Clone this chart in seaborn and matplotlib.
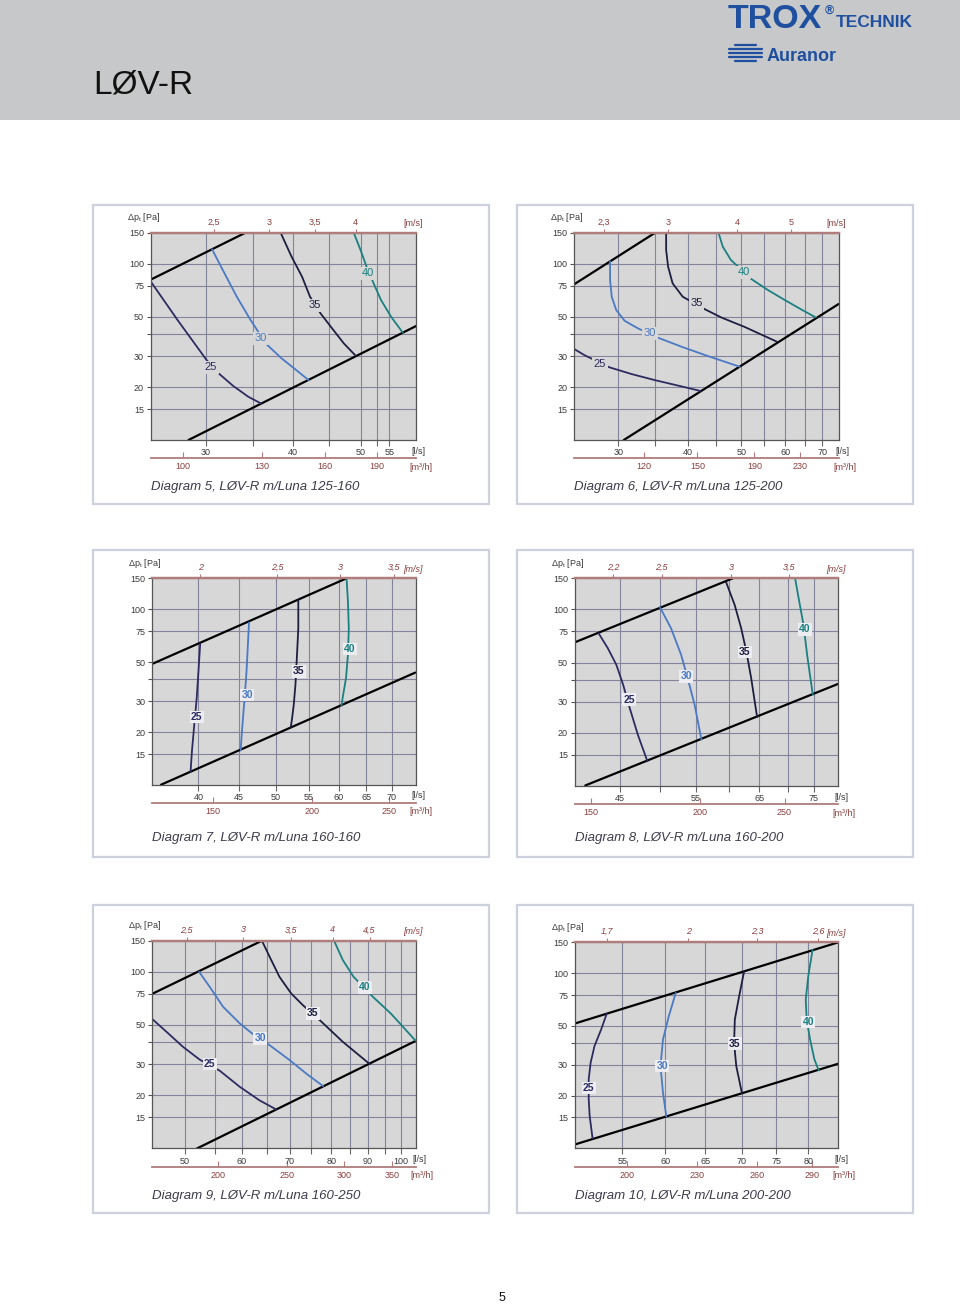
import matplotlib
matplotlib.use("Agg")
import matplotlib.pyplot as plt
import seaborn as sns
from matplotlib.patches import Rectangle
from matplotlib.lines import Line2D
from matplotlib.ticker import NullLocator, NullFormatter

# ------------------------------------------------------------------ data
Y_LIM = (10, 150)
Y_TICKS = [15, 20, 30, 40, 50, 75, 100, 150]
Y_TICK_LABELS = ["15", "20", "30", "", "50", "75", "100", "150"]
CURVE_NAMES = ["25", "30", "35", "40"]

# Diagram 5
D5_TITLE = "Diagram 5, LØV-R m/Luna 125-160"
D5_XLIM = (25, 60)
D5_LS_TICKS = [30, 40, 50, 55]
D5_LS_MINOR = [35, 45, 52.8]
D5_M3H_TICKS = [100, 130, 160, 190]
D5_MS_TICKS = [2.5, 3, 3.5, 4]
D5_MS_LABELS = ["2,5", "3", "3,5", "4"]
D5_MS_FACTOR = 12.3
D5_UPPER = [(24.9, 81.0), (34.1, 150.0)]
D5_LOWER = [(28.3, 10.0), (60.2, 44.6)]
D5_C25 = [(24.9, 81.0), (27.3, 48.0), (30.0, 28.7), (31.2, 24.1), (32.8, 20.3), (34.5, 17.6), (36.0, 16.1)]
D5_C30 = [(30.6, 121.1), (31.7, 92.4), (33.2, 65.2), (34.7, 48.5), (36.6, 35.1), (38.5, 29.1), (40.3, 25.2), (42.1, 21.9)]
D5_C35 = [(38.4, 150.0), (39.8, 110.0), (41.2, 84.7), (42.3, 65.2), (43.8, 52.4), (45.5, 43.1), (47.3, 35.4), (49.2, 30.1)]
D5_C40 = [(48.9, 150.0), (50.0, 120.0), (51.0, 96.5), (52.2, 77.6), (53.5, 62.4), (55.3, 50.2), (57.5, 40.7)]
D5_LABELS = [(30.5, 25.9), (35.9, 37.8), (43.0, 58.2), (51.2, 88.5)]

# Diagram 6
D6_TITLE = "Diagram 6, LØV-R m/Luna 125-200"
D6_XLIM = (25, 75)
D6_LS_TICKS = [30, 40, 50, 60, 70]
D6_LS_MINOR = [35, 45, 55, 65]
D6_M3H_TICKS = [120, 150, 190, 230]
D6_MS_TICKS = [2.3, 3, 4, 5]
D6_MS_LABELS = ["2,3", "3", "4", "5"]
D6_MS_FACTOR = 12.3
D6_UPPER = [(24.86, 75.9), (34.9, 150.0)]
D6_LOWER = [(30.7, 10.0), (74.85, 59.2)]
D6_C25 = [(24.9, 33.1), (26.1, 30.3), (28.9, 25.9), (31.7, 23.7), (34.9, 21.9), (38.4, 20.4), (42.2, 19.0)]
D6_C30 = [(29.0, 103.4), (29.0, 81.0), (29.2, 65.2), (29.75, 54.8), (30.8, 47.6), (32.55, 43.1), (35.4, 38.1), (39.0, 33.9), (43.5, 30.0), (49.65, 26.1)]
D6_C35 = [(36.6, 150.0), (36.6, 120.0), (36.9, 96.5), (37.6, 77.6), (39.2, 65.2), (42.9, 55.5), (46.0, 49.7), (50.6, 44.0), (57.95, 36.2)]
D6_C40 = [(45.5, 150.0), (46.3, 125.4), (47.9, 105.3), (52.1, 82.2), (55.85, 71.1), (59.9, 62.4), (64.1, 55.2), (68.1, 49.7)]
D6_LABELS = [(27.8, 27.2), (34.2, 40.3), (41.5, 59.8), (50.5, 89.6)]

# Diagram 7
D7_TITLE = "Diagram 7, LØV-R m/Luna 160-160"
D7_XLIM = (35, 75)
D7_LS_TICKS = [40, 45, 50, 55, 60, 65, 70]
D7_LS_MINOR = []
D7_M3H_TICKS = [150, 200, 250]
D7_MS_TICKS = [2, 2.5, 3, 3.5]
D7_MS_LABELS = ["2", "2,5", "3", "3,5"]
D7_MS_FACTOR = 20.1
D7_UPPER = [(35.0, 48.9), (61.4, 150.0)]
D7_LOWER = [(35.9, 10.04), (74.9, 43.6)]
D7_C25 = [(40.2, 63.5), (40.0, 44.3), (39.8, 31.2), (39.5, 21.5), (39.25, 15.5), (39.1, 11.95)]
D7_C30 = [(46.3, 84.0), (46.15, 62.7), (45.97, 44.3), (45.75, 32.6), (45.5, 24.0), (45.3, 18.5), (45.2, 15.7)]
D7_C35 = [(53.4, 113.0), (53.4, 78.0), (53.2, 55.1), (52.96, 37.2), (52.7, 28.6), (52.45, 24.0), (52.25, 21.3)]
D7_C40 = [(61.4, 150.0), (61.65, 110.5), (61.8, 78.0), (61.65, 55.1), (61.3, 40.5), (60.8, 32.6), (60.5, 28.3)]
D7_LABELS = [(39.8, 24.4), (46.06, 32.6), (53.5, 44.3), (62.0, 59.3)]

# Diagram 8
D8_TITLE = "Diagram 8, LØV-R m/Luna 160-200"
D8_XLIM = (40, 80)
D8_LS_TICKS = [45, 55, 65, 75]
D8_LS_MINOR = [50, 60, 70]
D8_M3H_TICKS = [150, 200, 250]
D8_MS_TICKS = [2.2, 2.5, 3, 3.5]
D8_MS_LABELS = ["2,2", "2,5", "3", "3,5"]
D8_MS_FACTOR = 20.1
D8_UPPER = [(39.95, 65.0), (60.6, 150.0)]
D8_LOWER = [(41.1, 10.07), (79.9, 37.8)]
D8_C25 = [(42.56, 73.3), (43.6, 60.4), (44.6, 48.6), (45.4, 37.5), (46.2, 27.6), (47.2, 19.5), (48.4, 13.8)]
D8_C30 = [(50.05, 102.4), (51.5, 78.3), (52.9, 55.2), (53.8, 40.9), (54.8, 28.9), (55.8, 18.3)]
D8_C35 = [(59.55, 142.4), (60.9, 106.0), (61.95, 78.3), (62.8, 57.8), (63.6, 40.9), (64.6, 24.6)]
D8_C40 = [(71.4, 150.0), (72.3, 106.0), (73.0, 81.8), (73.7, 55.2), (74.8, 32.9)]
D8_LABELS = [(46.1, 30.8), (53.6, 41.7), (62.5, 57.3), (73.2, 77.1)]

# Diagram 9
D9_TITLE = "Diagram 9, LØV-R m/Luna 160-250"
D9_XLIM = (45, 105)
D9_LS_TICKS = [50, 60, 70, 80, 90, 100]
D9_LS_MINOR = [55, 65, 75, 85, 95]
D9_M3H_TICKS = [200, 250, 300, 350]
D9_MS_TICKS = [2.5, 3, 3.5, 4, 4.5]
D9_MS_LABELS = ["2,5", "3", "3,5", "4", "4,5"]
D9_MS_FACTOR = 20.1
D9_UPPER = [(44.9, 74.7), (64.0, 150.0)]
D9_LOWER = [(51.9, 9.96), (104.9, 40.6)]
D9_C25 = [(44.9, 54.4), (47.1, 45.7), (49.65, 37.6), (52.4, 31.8), (55.9, 27.5), (59.6, 22.3), (63.5, 18.7), (67.0, 16.6)]
D9_C30 = [(52.3, 100.0), (54.1, 82.3), (56.5, 63.3), (59.6, 51.0), (62.2, 44.3), (65.6, 38.4), (69.95, 31.6), (73.8, 26.5), (77.9, 22.5)]
D9_C35 = [(64.0, 150.0), (65.6, 121.7), (67.7, 93.7), (70.3, 75.4), (73.0, 64.7), (77.5, 52.1), (83.0, 40.1), (90.5, 30.0)]
D9_C40 = [(80.7, 150.0), (83.0, 116.5), (85.9, 93.7), (91.4, 72.2), (96.8, 58.1), (100.7, 48.8), (104.9, 40.6)]
D9_LABELS = [(54.1, 30.0), (63.7, 41.9), (75.4, 58.1), (89.0, 81.5)]

# Diagram 10
D10_TITLE = "Diagram 10, LØV-R m/Luna 200-200"
D10_XLIM = (50, 85)
D10_LS_TICKS = [55, 60, 65, 70, 75, 80]
D10_LS_MINOR = []
D10_M3H_TICKS = [200, 230, 260, 290]
D10_MS_TICKS = [1.7, 2, 2.3, 2.6]
D10_MS_LABELS = ["1,7", "2", "2,3", "2,6"]
D10_MS_FACTOR = 31.4
D10_UPPER = [(49.95, 51.5), (85.0, 150.0)]
D10_LOWER = [(49.95, 10.5), (85.0, 30.4)]
D10_C25 = [(53.3, 58.7), (52.7, 47.6), (52.0, 38.3), (51.6, 30.8), (51.4, 24.8), (51.4, 19.1), (51.5, 15.3), (51.8, 11.4)]
D10_C30 = [(61.25, 77.0), (60.4, 56.7), (59.7, 41.8), (59.4, 29.5), (59.7, 20.8), (60.1, 15.2)]
D10_C35 = [(70.3, 102.2), (69.6, 73.7), (69.0, 54.3), (68.9, 40.0), (69.2, 29.5), (70.0, 20.6)]
D10_C40 = [(80.7, 135.7), (80.0, 95.7), (79.6, 70.5), (79.75, 54.3), (80.3, 41.8), (81.0, 32.2), (81.7, 27.9)]
D10_LABELS = [(51.4, 22.1), (59.6, 29.5), (69.0, 39.6), (80.0, 52.6)]

# ------------------------------------------------------------------ style
sns.set_theme(style="white")
plt.rcParams["font.family"] = ["Liberation Sans", "DejaVu Sans"]
plt.rcParams["mathtext.fontset"] = "custom"
plt.rcParams["mathtext.rm"] = "Liberation Sans"
plt.rcParams["mathtext.it"] = "Liberation Sans:italic"
plt.rcParams["mathtext.default"] = "regular"

W, H = 960, 1304
BG = "#d7d7d8"
GRID = "#84859a"
RED_LINE = "#b07c7c"
RED_TXT = "#8a3f3f"
DARK_TXT = "#3a3a3a"
CURVE_COLORS = ["#2d2b60", "#4a7ac4", "#1e1e40", "#1b8080"]
LOGO_BLUE = "#1f4f9f"

fig = plt.figure(figsize=(W / 100, H / 100), dpi=100)


def fx(x):
    return x / W


def fy(y):
    return 1 - y / H


# header band
fig.add_artist(Rectangle((0, fy(120)), 1, 120 / H, transform=fig.transFigure,
                         fc="#c7c8c9", ec="none", zorder=-2))
fig.text(fx(93), fy(93), "LØV-R", fontsize=24, va="baseline", ha="left",
         color="#111111")
fig.text(fx(728), fy(28), "TROX", fontsize=24.5, weight="bold", color=LOGO_BLUE,
         va="baseline", ha="left")
fig.text(fx(825), fy(14), "®", fontsize=9, weight="bold", color=LOGO_BLUE,
         va="baseline", ha="left")
fig.text(fx(836), fy(27), "TECHNIK", fontsize=12.5, weight="bold", color=LOGO_BLUE,
         va="baseline", ha="left")
fig.text(fx(767), fy(61), "Auranor", fontsize=13, weight="bold", color=LOGO_BLUE,
         va="baseline", ha="left")
for yy, x0, x1 in [(45, 735, 756), (49, 729, 762), (53, 729, 762), (57, 729, 762), (61, 735, 756)]:
    fig.add_artist(Line2D([fx(x0), fx(x1)], [fy(yy), fy(yy)], transform=fig.transFigure,
                          color=LOGO_BLUE, lw=1.6))

fig.text(fx(502), fy(1298), "5", fontsize=9, ha="center", va="center", color="#111111")

DIAGRAMS = [
    dict(box=(151, 233, 415.7, 440), frame=(93, 205, 489, 504), cap=487, title=D5_TITLE,
         xlim=D5_XLIM, ls=D5_LS_TICKS, minor=D5_LS_MINOR, m3h=D5_M3H_TICKS, ms=D5_MS_TICKS,
         msl=D5_MS_LABELS, f=D5_MS_FACTOR, up=D5_UPPER, lo=D5_LOWER,
         curves=[D5_C25, D5_C30, D5_C35, D5_C40], labels=D5_LABELS, bold=False),
    dict(box=(574.3, 233, 839, 440), frame=(517, 205, 913, 504), cap=487, title=D6_TITLE,
         xlim=D6_XLIM, ls=D6_LS_TICKS, minor=D6_LS_MINOR, m3h=D6_M3H_TICKS, ms=D6_MS_TICKS,
         msl=D6_MS_LABELS, f=D6_MS_FACTOR, up=D6_UPPER, lo=D6_LOWER,
         curves=[D6_C25, D6_C30, D6_C35, D6_C40], labels=D6_LABELS, bold=False),
    dict(box=(152.3, 578.3, 415.7, 785), frame=(93, 550, 489, 857), cap=838.5, title=D7_TITLE,
         xlim=D7_XLIM, ls=D7_LS_TICKS, minor=D7_LS_MINOR, m3h=D7_M3H_TICKS, ms=D7_MS_TICKS,
         msl=D7_MS_LABELS, f=D7_MS_FACTOR, up=D7_UPPER, lo=D7_LOWER,
         curves=[D7_C25, D7_C30, D7_C35, D7_C40], labels=D7_LABELS, bold=True),
    dict(box=(575, 578.3, 838.3, 786), frame=(517, 550, 913, 857), cap=838.5, title=D8_TITLE,
         xlim=D8_XLIM, ls=D8_LS_TICKS, minor=D8_LS_MINOR, m3h=D8_M3H_TICKS, ms=D8_MS_TICKS,
         msl=D8_MS_LABELS, f=D8_MS_FACTOR, up=D8_UPPER, lo=D8_LOWER,
         curves=[D8_C25, D8_C30, D8_C35, D8_C40], labels=D8_LABELS, bold=True),
    dict(box=(152.3, 940.7, 416, 1148.3), frame=(93, 905, 489, 1213), cap=1196.5, title=D9_TITLE,
         xlim=D9_XLIM, ls=D9_LS_TICKS, minor=D9_LS_MINOR, m3h=D9_M3H_TICKS, ms=D9_MS_TICKS,
         msl=D9_MS_LABELS, f=D9_MS_FACTOR, up=D9_UPPER, lo=D9_LOWER,
         curves=[D9_C25, D9_C30, D9_C35, D9_C40], labels=D9_LABELS, bold=True),
    dict(box=(575, 942.3, 838.3, 1148.3), frame=(517, 905, 913, 1213), cap=1195.5, title=D10_TITLE,
         xlim=D10_XLIM, ls=D10_LS_TICKS, minor=D10_LS_MINOR, m3h=D10_M3H_TICKS, ms=D10_MS_TICKS,
         msl=D10_MS_LABELS, f=D10_MS_FACTOR, up=D10_UPPER, lo=D10_LOWER,
         curves=[D10_C25, D10_C30, D10_C35, D10_C40], labels=D10_LABELS, bold=True),
]


def fmt(v):
    s = ("%g" % v)
    return s.replace(".", ",")


for d in DIAGRAMS:
    L, T, R, B = d["box"]
    x0, y0, x1, y1 = d["frame"]
    fig.add_artist(Rectangle((fx(x0), fy(y1)), (x1 - x0) / W, (y1 - y0) / H,
                             transform=fig.transFigure, fc="white", ec="#cdd1de",
                             lw=1.6, zorder=-1))
    ax = fig.add_axes([fx(L), fy(B), (R - L) / W, (B - T) / H])
    ax.set_facecolor(BG)
    ax.set_xscale("log")
    ax.set_yscale("log")
    ax.set_axisbelow(True)

    # boundary lines
    for seg in (d["up"], d["lo"]):
        sns.lineplot(x=[p[0] for p in seg], y=[p[1] for p in seg], ax=ax, color="black",
                     lw=1.6, sort=False, estimator=None, legend=False)
    # sound-level curves
    for pts, col in zip(d["curves"], CURVE_COLORS):
        sns.lineplot(x=[p[0] for p in pts], y=[p[1] for p in pts], ax=ax, color=col,
                     lw=1.3, sort=False, estimator=None, legend=False)
    # inline curve labels
    for (q, p), name, col in zip(d["labels"], CURVE_NAMES, CURVE_COLORS):
        if d["bold"]:
            ax.text(q, p, name, ha="center", va="center", color=col, fontsize=7.5,
                    weight="bold", zorder=6,
                    bbox=dict(boxstyle="square,pad=0.12", fc="#ededf1", ec="none"))
        else:
            ax.text(q, p, name, ha="center", va="center", color=col, fontsize=8,
                    zorder=6, bbox=dict(boxstyle="square,pad=0.15", fc=BG, ec="none"))

    ax.set_xlim(*d["xlim"])
    ax.set_ylim(*Y_LIM)
    ax.set_xlabel("")
    ax.set_ylabel("")

    ax.set_yticks(Y_TICKS, labels=Y_TICK_LABELS)
    ax.yaxis.set_minor_locator(NullLocator())
    ax.set_xticks(d["ls"], labels=[fmt(v) for v in d["ls"]])
    ax.set_xticks(d["minor"], minor=True)
    ax.xaxis.set_minor_formatter(NullFormatter())

    ax.grid(True, which="both", axis="x", color=GRID, lw=0.8)
    ax.grid(True, which="major", axis="y", color=GRID, lw=0.8)
    ax.tick_params(axis="y", which="major", left=True, length=3, width=0.8, color="#555555",
                   labelsize=6.5, labelcolor=DARK_TXT, pad=2)
    ax.tick_params(axis="x", which="both", bottom=True, length=4, width=0.8, color="#666666",
                   labelsize=6.5, labelcolor=DARK_TXT, pad=2)
    for side in ("left", "bottom", "right"):
        ax.spines[side].set_color("#555555")
        ax.spines[side].set_linewidth(0.9)
    ax.spines["top"].set_color(RED_LINE)
    ax.spines["top"].set_linewidth(1.6)

    f = d["f"]
    top = ax.secondary_xaxis("top", functions=(lambda q, f=f: q / f, lambda v, f=f: v * f))
    top.set_xticks(d["ms"], labels=d["msl"])
    top.xaxis.set_minor_locator(NullLocator())
    top.tick_params(length=3, width=0.8, color=RED_LINE, labelsize=6.5,
                    labelcolor=RED_TXT, pad=1.5)
    top.spines["top"].set_color(RED_LINE)
    top.spines["top"].set_linewidth(1.6)
    if d["bold"]:
        for lab in top.get_xticklabels():
            lab.set_fontstyle("italic")

    loc = -18.3 / (B - T)
    bot = ax.secondary_xaxis(loc, functions=(lambda q: q * 3.6, lambda m: m / 3.6))
    bot.set_xticks(d["m3h"], labels=[str(v) for v in d["m3h"]])
    bot.xaxis.set_minor_locator(NullLocator())
    bot.tick_params(direction="in", length=4, width=0.8, color=RED_LINE, labelsize=6.5,
                    labelcolor=RED_TXT, pad=3)
    bot.spines["bottom"].set_color(RED_LINE)
    bot.spines["bottom"].set_linewidth(1.3)

    # unit labels and caption
    fig.text(fx(R - 4), fy(B + 11), "[l/s]", ha="left", va="center", fontsize=6.5,
             color=DARK_TXT)
    fig.text(fx(R - 6), fy(B + 27), "[m³/h]", ha="left", va="center", fontsize=6.5,
             color=RED_TXT)
    fig.text(fx(R + 7), fy(T - 9), "[m/s]", ha="right", va="center", fontsize=6.5,
             color=RED_TXT, style="italic" if d["bold"] else "normal")
    fig.text(fx(L - 24), fy(T - 15), r"$\Delta p_t$ [Pa]", ha="left", va="center",
             fontsize=6.5, color=DARK_TXT)
    fig.text(fx(L), fy(d["cap"]), d["title"], ha="left", va="center", fontsize=9.5,
             style="italic", color="#3b3b4b")

fig.savefig("out.png", dpi=100)
